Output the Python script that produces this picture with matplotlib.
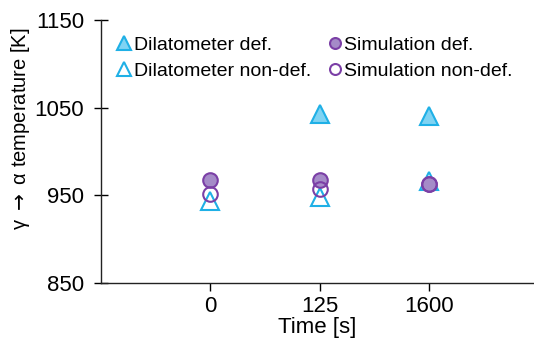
import matplotlib.pyplot as plt

plt.rcParams['font.family'] = ['Liberation Sans', 'DejaVu Sans']

times = ['0', '125', '1600']
dil_def = [None, 1043, 1040]
dil_nondef = [943, 948, 966]
sim_def = [968, 968, 963]
sim_nondef = [952, 957, 963]

blue_edge = '#1fb0e6'
blue_fill = '#7fd3f3'
purple_edge = '#7b3fa6'
purple_fill = '#a58bc8'

fig = plt.figure(figsize=(5.34, 3.56), dpi=100)
ax = fig.add_axes([0.189, 0.205, 0.811, 0.739])

xs = list(range(len(times)))
dx = [x for x, v in zip(xs, dil_def) if v is not None]
dy = [v for v in dil_def if v is not None]

ax.plot(dx, dy, ls='none', marker='^', ms=12.5, mfc=blue_fill, mec=blue_edge, mew=1.5,
        label='Dilatometer def.')
ax.plot(xs, dil_nondef, ls='none', marker='^', ms=12.5, mfc='white', mec=blue_edge, mew=1.5,
        label='Dilatometer non-def.')
ax.plot(xs, sim_def, ls='none', marker='o', ms=10.5, mfc=purple_fill, mec=purple_edge, mew=1.5,
        label='Simulation def.')
ax.plot(xs, sim_nondef, ls='none', marker='o', ms=10.5, mfc='none', mec=purple_edge, mew=1.5,
        label='Simulation non-def.')

ax.set_xlim(-1, 2.96)
ax.set_ylim(850, 1150)
ax.set_yticks([850, 950, 1050, 1150])
ax.set_xticks(xs)
ax.set_xticklabels(times)
ax.tick_params(axis='y', direction='inout', length=10, width=1, labelsize=16, pad=7)
ax.tick_params(axis='x', direction='out', length=6, width=1, labelsize=16, pad=3)
for s in ['top', 'right']:
    ax.spines[s].set_visible(False)
for s in ['left', 'bottom']:
    ax.spines[s].set_linewidth(1)
    ax.spines[s].set_color('#222222')

ax.set_xlabel('Time [s]', fontsize=16, labelpad=0)
ax.set_ylabel('γ $\\rightarrow$ α temperature [K]', fontsize=14.5)
ax.yaxis.set_label_coords(-0.159, 0.586)

handles, labels = ax.get_legend_handles_labels()
leg = ax.legend(handles, labels, ncol=2,
                loc='upper left', bbox_to_anchor=(-0.002, 1.005), frameon=False,
                fontsize=14, handlelength=0.7, handletextpad=0.15, columnspacing=0.85,
                labelspacing=0.45, markerscale=0.75)

fig.savefig('out.png', dpi=100)
